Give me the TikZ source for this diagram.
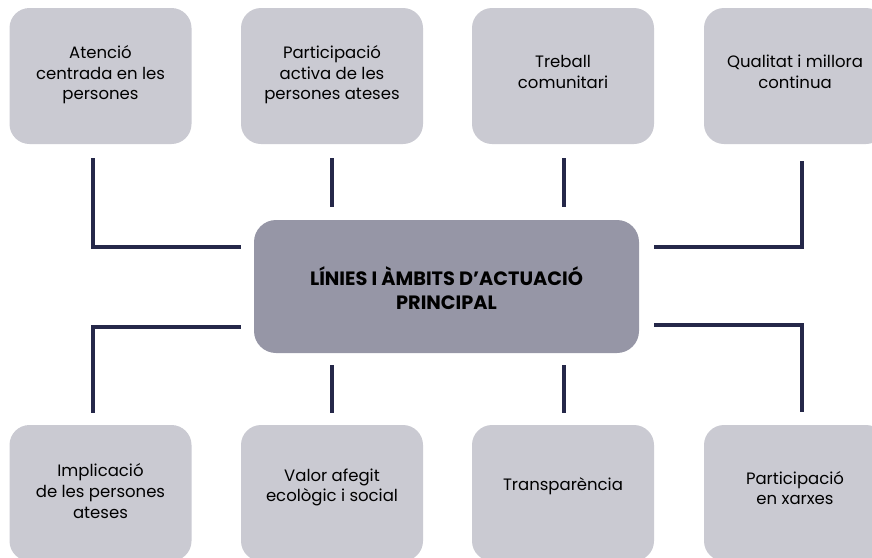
\documentclass[tikz,border=0pt]{standalone}
\usepackage{fontspec}
\setmainfont{Poppins}
\definecolor{boxgray}{HTML}{CACAD2}
\definecolor{centergray}{HTML}{9696A6}
\definecolor{navy}{HTML}{252849}
\begin{document}
\begin{tikzpicture}[x=1pt,y=-1pt,
  smallbox/.style={fill=boxgray, rounded corners=20pt, minimum width=182pt, minimum height=136pt, inner sep=0pt},
  bigbox/.style={fill=centergray, rounded corners=22pt, minimum width=385pt, minimum height=133pt, inner sep=0pt},
  lbl/.style={align=center, font=\fontsize{16.5}{20.6}\selectfont, text=black},
  biglbl/.style={align=center, font=\bfseries\fontsize{19.3}{24}\selectfont, text=black},
  link/.style={draw=navy, line width=4pt}]
\useasboundingbox (0,0) rectangle (872,557);
\clip (0,0) rectangle (872,557);
% boxes
\node[smallbox] (b1) at (100.5,76) {};
\node[smallbox] (b2) at (332,76) {};
\node[smallbox] (b3) at (563,76) {};
\node[smallbox] (b4) at (795,76) {};
\node[smallbox] (d1) at (100.5,493) {};
\node[smallbox] (d2) at (332,493) {};
\node[smallbox] (d3) at (563,493) {};
\node[smallbox] (d4) at (795,493) {};
\node[bigbox] (c) at (446.5,286.5) {};
% labels
\node[lbl] (t1) at ([yshift=1]b1.center) {Atenció\\centrada en les\\persones};
\node[lbl] (t2) at ([yshift=1]b2.center) {Participació\\activa de les\\persones ateses};
\node[lbl] (t3) at ([yshift=4]b3.center) {Treball\\comunitari};
\node[lbl] (t4) at ([yshift=4]b4.center) {Qualitat i millora\\continua};
\node[lbl] (u1) at ([yshift=2]d1.center) {Implicació\\de les persones\\ateses};
\node[lbl] (u2) at ([yshift=5.5]d2.center) {Valor afegit\\ecològic i social};
\node[lbl] (u3) at ([yshift=7]d3.center) {Transparència};
\node[lbl] (u4) at ([yshift=5]d4.center) {Participació\\en xarxes};
\node[biglbl] (ct) at ([yshift=-1.5]c.center) {LÍNIES I ÀMBITS D’ACTUACIÓ\\PRINCIPAL};
% connectors
\draw[link] ([shift={(-7.5,14)}]b1.south) |- ([shift={(-13,-39.5)}]c.west);
\draw[link] ([shift={(0,14)}]b2.south) -- ([shift={(0,-13)}]b2.south |- c.north);
\draw[link] ([shift={(1,14)}]b3.south) -- ([shift={(1,-13)}]b3.south |- c.north);
\draw[link] ([shift={(7,17)}]b4.south) |- ([shift={(15,-39.5)}]c.east);
\draw[link] ([shift={(-13,40.5)}]c.west) -| ([shift={(-7.5,-12)}]d1.north);
\draw[link] ([shift={(0,12)}]d2.north |- c.south) -- ([shift={(0,-12)}]d2.north);
\draw[link] ([shift={(1,12)}]d3.north |- c.south) -- ([shift={(1,-12)}]d3.north);
\draw[link] ([shift={(15,38.5)}]c.east) -| ([shift={(7,-13)}]d4.north);
\end{tikzpicture}
\end{document}
